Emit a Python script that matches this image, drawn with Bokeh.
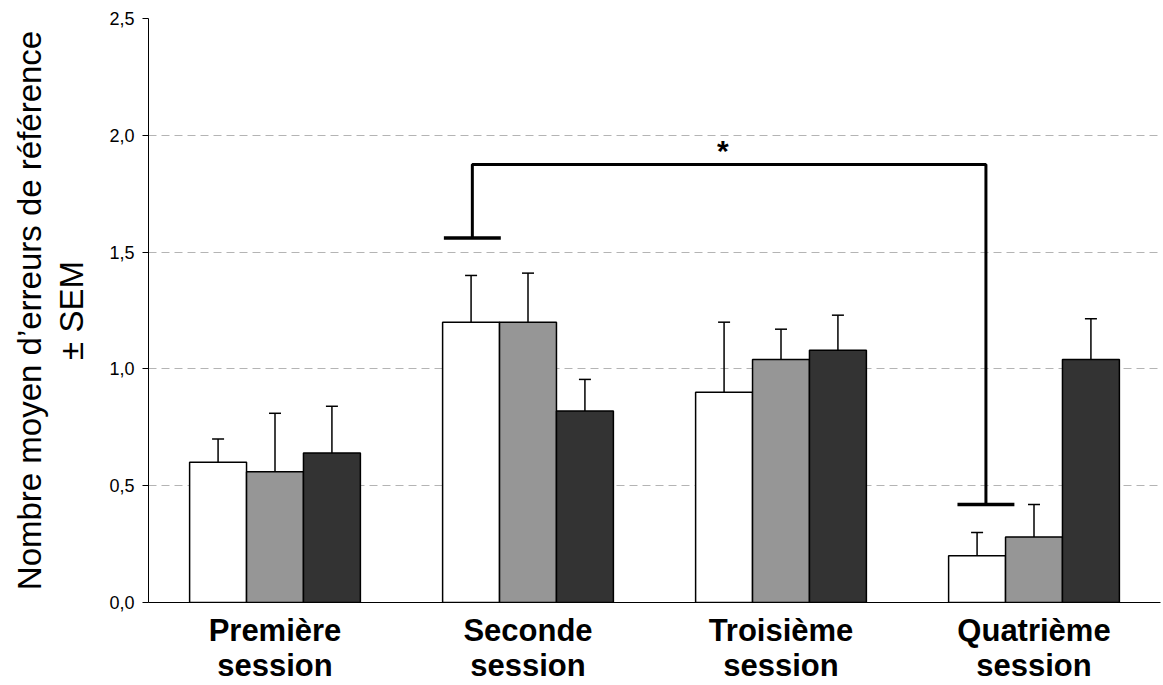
import numpy as np
from bokeh.plotting import figure
from bokeh.models import ColumnDataSource, FixedTicker, Whisker, TeeHead, Range1d
from bokeh.embed import file_html
from bokeh.resources import INLINE
from bokeh.core.properties import value

# ---- data ----
sessions = ["Première\nsession", "Seconde\nsession", "Troisième\nsession", "Quatrième\nsession"]
series_names = ["blanc", "gris", "noir"]
series_colors = ["#ffffff", "#969696", "#333333"]
means_white = [0.60, 1.20, 0.90, 0.20]
means_gray = [0.56, 1.20, 1.04, 0.28]
means_dark = [0.64, 0.82, 1.08, 1.04]
sem_white = [0.10, 0.20, 0.30, 0.10]
sem_gray = [0.25, 0.21, 0.13, 0.14]
sem_dark = [0.20, 0.135, 0.15, 0.175]
y_ticks = [0.0, 0.5, 1.0, 1.5, 2.0, 2.5]
y_tick_labels = ["0,0", "0,5", "1,0", "1,5", "2,0", "2,5"]
# significance bracket (data units)
sig_x = [1.28, 3.31]
sig_y_ends = [1.56, 0.42]
sig_y_top = 1.875
sig_label = "*"
sig_label_pos = [2.27, 1.935]

FONT = "Liberation Sans"
bar_w = 0.225
offsets = [-bar_w, 0.0, bar_w]

p = figure(width=1163, height=685,
           x_range=Range1d(0, 4), y_range=Range1d(0, 2.5),
           output_backend="svg", toolbar_location=None,
           min_border_left=148, min_border_right=3,
           min_border_top=18, min_border_bottom=83)

centers = np.arange(len(sessions)) + 0.5
all_means = [means_white, means_gray, means_dark]
all_sems = [sem_white, sem_gray, sem_dark]
for means, sems, off, col in zip(all_means, all_sems, offsets, series_colors):
    m = np.array(means)
    s = np.array(sems)
    src = ColumnDataSource(dict(x=centers + off, top=m, upper=m + s, lower=m))
    w = Whisker(source=src, base="x", upper="upper", lower="lower",
                upper_head=TeeHead(size=12, line_width=1.5, line_color="black"),
                lower_head=None, line_width=1.5, line_color="black")
    p.add_layout(w)
    p.vbar(x="x", top="top", bottom=0, width=bar_w, source=src,
           fill_color=col, line_color="black", line_width=1.5)

# bracket
bx = [sig_x[0], sig_x[0], sig_x[1], sig_x[1]]
by = [sig_y_ends[0], sig_y_top, sig_y_top, sig_y_ends[1]]
p.line(bx, by, line_color="black", line_width=3)
p.segment(x0=[x - bar_w / 2 for x in sig_x], x1=[x + bar_w / 2 for x in sig_x],
          y0=sig_y_ends, y1=sig_y_ends, line_color="black", line_width=3.5)
p.text(x=[sig_label_pos[0]], y=[sig_label_pos[1]], text=[sig_label],
       text_font=value(FONT), text_font_style="bold", text_font_size="30px",
       text_align="center", text_baseline="middle", text_color="black")

# axes
p.outline_line_color = None
p.xgrid.grid_line_color = None
p.ygrid.ticker = FixedTicker(ticks=y_ticks)
p.ygrid.grid_line_color = "#b4b4b4"
p.ygrid.grid_line_dash = "8 5"
p.ygrid.grid_line_width = 1

p.yaxis.ticker = FixedTicker(ticks=y_ticks)
p.yaxis.major_label_overrides = {t: l for t, l in zip(y_ticks, y_tick_labels)}
p.yaxis.major_label_text_font = FONT
p.yaxis.major_label_text_font_size = "18px"
p.yaxis.major_label_text_color = "black"
p.yaxis.major_tick_out = 6
p.yaxis.major_tick_in = 0
p.yaxis.minor_tick_line_color = None
p.yaxis.axis_line_color = "black"
p.yaxis.major_label_standoff = 8
p.yaxis.axis_label = "Nombre moyen d\u2019erreurs de référence\n± SEM"
p.yaxis.axis_label_text_font = FONT
p.yaxis.axis_label_text_font_size = "33px"
p.yaxis.axis_label_text_font_style = "normal"
p.yaxis.axis_label_text_color = "black"
p.yaxis.axis_label_text_line_height = 1.15
p.yaxis.axis_label_standoff = 16

p.xaxis.ticker = FixedTicker(ticks=list(centers))
p.xaxis.major_label_overrides = {float(c): s for c, s in zip(centers, sessions)}
p.xaxis.major_label_text_font = FONT
p.xaxis.major_label_text_font_style = "bold"
p.xaxis.major_label_text_font_size = "31px"
p.xaxis.major_label_text_color = "black"
p.xaxis.major_label_text_line_height = 1.0
p.xaxis.major_tick_out = 0
p.xaxis.major_tick_in = 0
p.xaxis.minor_tick_line_color = None
p.xaxis.axis_line_color = "black"
p.xaxis.major_label_standoff = 10

open("out.html", "w").write(file_html(p, INLINE))
